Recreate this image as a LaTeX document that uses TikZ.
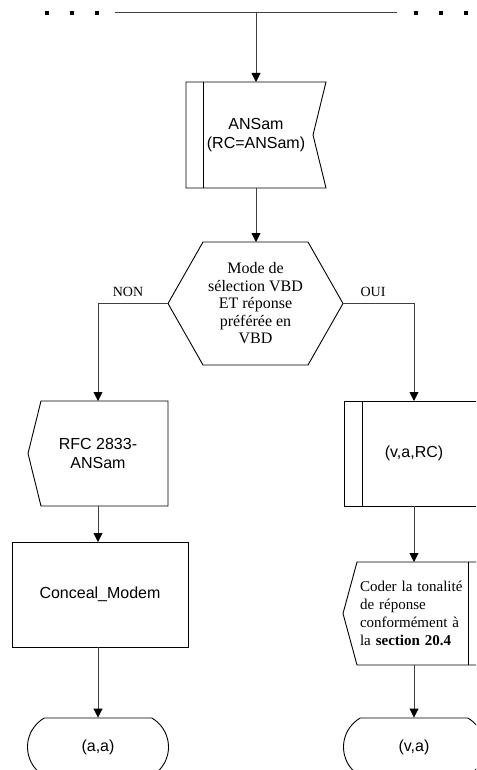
\documentclass[tikz,border=0pt]{standalone}
\usepackage{fontspec}
\setmainfont{Liberation Serif}
\newfontfamily\sansf{Liberation Sans}
\usetikzlibrary{arrows.meta,shapes.misc}
\begin{document}
\begin{tikzpicture}[x=1pt,y=-1pt,
  outline/.style={draw=black,line width=0.9pt},
  slot/.style={inner sep=0pt,outer sep=0pt},
  sanstext/.style={font=\sansf\fontsize{16}{19}\selectfont,align=center},
  seriftext/.style={font=\fontsize{16}{17.5}\selectfont,align=center},
  flow/.style={draw=black!75,line width=0.9pt},
  arr/.style={flow,-{Triangle[length=9pt,width=9pt,color=black]}},
  lbl/.style={font=\fontsize{14}{16}\selectfont,inner sep=0pt},
  terminus/.style={rounded rectangle,rounded rectangle arc length=120,outline,
    minimum width=141pt,minimum height=58pt,inner sep=0pt,
    font=\sansf\fontsize{16}{19}\selectfont},
  busdot/.style={fill=black,minimum size=4pt,inner sep=0pt}
]
\useasboundingbox (0,0) rectangle (476,770);
\clip (0,0) rectangle (476,770);

% incoming bus with continuation dots
\foreach \x in {47,72,97,416,441,466} \node[busdot] (d\x) at (\x,13.5) {};
\coordinate (busL) at (115,12);
\coordinate (busR) at (397,12);
\coordinate (busT) at (256,12);
\draw[flow] (busL) -- (busR);

% input signal ANSam
\node[slot,sanstext,minimum width=140pt,minimum height=106pt] (ansam) at (256,135)
  {ANSam\\(RC=ANSam)};
\draw[outline] (ansam.north west) -- (ansam.north east) -- ([xshift=-13pt]ansam.east)
  -- (ansam.south east) -- (ansam.south west) -- cycle;
\draw[outline] ([xshift=17pt]ansam.north west) -- ([xshift=17pt]ansam.south west);

% decision
\node[slot,seriftext,minimum width=175pt,minimum height=123pt] (hex) at (255.5,303.5)
  {Mode de\\sélection VBD\\ET réponse\\préférée en\\VBD};
\draw[outline] (hex.west) -- ([xshift=35pt]hex.north west) -- ([xshift=-35pt]hex.north east)
  -- (hex.east) -- ([xshift=-35pt]hex.south east) -- ([xshift=35pt]hex.south west) -- cycle;

% NON branch
\node[slot,sanstext,minimum width=140pt,minimum height=105pt] (rfc) at (98,453.5)
  {RFC 2833-\\ANSam};
\draw[outline] ([xshift=13pt]rfc.north west) -- (rfc.north east) -- (rfc.south east)
  -- ([xshift=13pt]rfc.south west) -- (rfc.west) -- cycle;
\node[slot,outline,sanstext,minimum width=176pt,minimum height=105pt] (conceal) at (100,594.5)
  {Conceal\_Modem};
\node[terminus] (aa) at (98,747) {(a,a)};

% OUI branch
\node[slot,outline,sanstext,minimum width=140pt,minimum height=105pt] (vrc) at (414,453.5)
  {(v,a,RC)};
\draw[outline] ([xshift=18pt]vrc.north west) -- ([xshift=18pt]vrc.south west);
\node[slot,font=\fontsize{15}{18}\selectfont,align=left,text width=108pt,
  minimum width=142pt,minimum height=103pt] (coder) at (414,613.5)
  {Coder la tonalité\\de réponse\\conformément à\\la \textbf{section 20.4}};
\draw[outline] ([xshift=14pt]coder.north west) -- (coder.north east) -- (coder.south east)
  -- ([xshift=14pt]coder.south west) -- (coder.west) -- cycle;
\draw[outline] ([xshift=-17pt]coder.north east) -- ([xshift=-17pt]coder.south east);
\node[terminus] (va) at (414,747) {(v,a)};

% connectors
\coordinate (nonB) at (98,303.5);
\coordinate (ouiB) at (414,303.5);
\draw[arr] (busT) -- (ansam.north);
\draw[arr] (ansam.south) -- (ansam.south |- hex.north);
\draw[arr] (hex.west) -- (nonB) -- (rfc.north);
\draw[arr] (hex.east) -- (ouiB) -- (vrc.north);
\draw[arr] (rfc.south) -- (rfc.south |- conceal.north);
\draw[arr] (rfc.south |- conceal.south) -- (aa.north);
\draw[arr] (vrc.south) -- (coder.north);
\draw[arr] (coder.south) -- (va.north);

\node[lbl] (non) at (128,292) {NON};
\node[lbl] (oui) at (373,292) {OUI};
\end{tikzpicture}
\end{document}
